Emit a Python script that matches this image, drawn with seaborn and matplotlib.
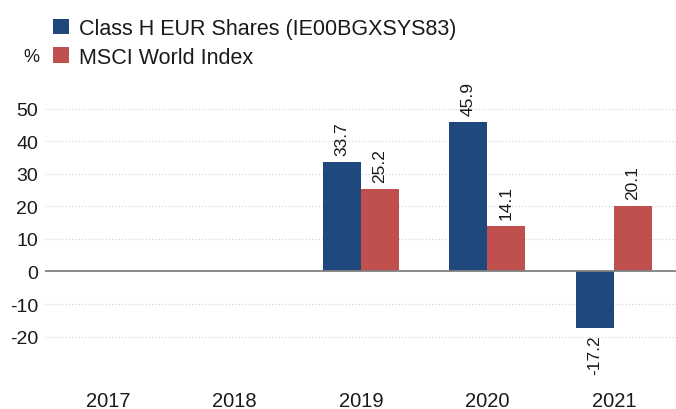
import numpy as np
import pandas as pd
import matplotlib
matplotlib.use("Agg")
import matplotlib.pyplot as plt
import seaborn as sns

sns.set_style("white")
plt.rcParams["font.family"] = ["Liberation Sans", "DejaVu Sans"]

years = ["2017", "2018", "2019", "2020", "2021"]
fund_name = "Class H EUR Shares (IE00BGXSYS83)"
index_name = "MSCI World Index"
fund_returns = [np.nan, np.nan, 33.7, 45.9, -17.2]
index_returns = [np.nan, np.nan, 25.2, 14.1, 20.1]
colors = ["#1f497d", "#c0504d"]

df = pd.DataFrame({
    "Year": years * 2,
    "Return": fund_returns + index_returns,
    "Series": [fund_name] * len(years) + [index_name] * len(years),
})

fig = plt.figure(figsize=(6.76, 4.10), dpi=100)
ax = fig.add_axes([45 / 676, 30 / 410, 632 / 676, 290 / 410])

sns.barplot(data=df, x="Year", y="Return", hue="Series", order=years,
            hue_order=[fund_name, index_name], palette=colors, width=0.6,
            saturation=1, linewidth=0, ax=ax)

ax.set_ylim(-33, 56)
ax.set_xlim(-0.5, 4.5)
ax.set_yticks([-20, -10, 0, 10, 20, 30, 40, 50])
ax.set_yticklabels(["-20", "-10", "0", "10", "20", "30", "40", "50"])
ax.yaxis.grid(True, linestyle=(0, (1, 2)), color="#d0d0d0", linewidth=0.8)
ax.set_axisbelow(True)
ax.axhline(0, color="#808080", linewidth=1.3, zorder=1)
for s in ax.spines.values():
    s.set_visible(False)
ax.set_xlabel("")
ax.set_ylabel("")
ax.tick_params(axis="x", length=0, pad=9, labelsize=14.5, labelcolor="#1a1a1a")
ax.tick_params(axis="y", length=0, pad=5, labelsize=14, labelcolor="#1a1a1a")

for cont in ax.containers:
    vals = [b.get_height() for b in cont]
    labels = ["" if np.isnan(v) else f"{v:.1f}" for v in vals]
    ax.bar_label(cont, labels=labels, rotation=90, padding=5, fontsize=12.5,
                 color="#1a1a1a")

handles, labs = ax.get_legend_handles_labels()
ax.get_legend().remove()
fig.legend(handles, labs, loc="upper left", bbox_to_anchor=(53 / 676, 1 - 19 / 410),
           frameon=False, fontsize=15.5, handlelength=0.75, handleheight=0.75,
           handletextpad=0.45, labelspacing=0.35, borderaxespad=0, borderpad=0,
           labelcolor="#1a1a1a")
fig.text(31 / 676, 1 - 58 / 410, "%", ha="center", va="center", fontsize=13,
         color="#1a1a1a")

fig.savefig("out.png", dpi=100)
